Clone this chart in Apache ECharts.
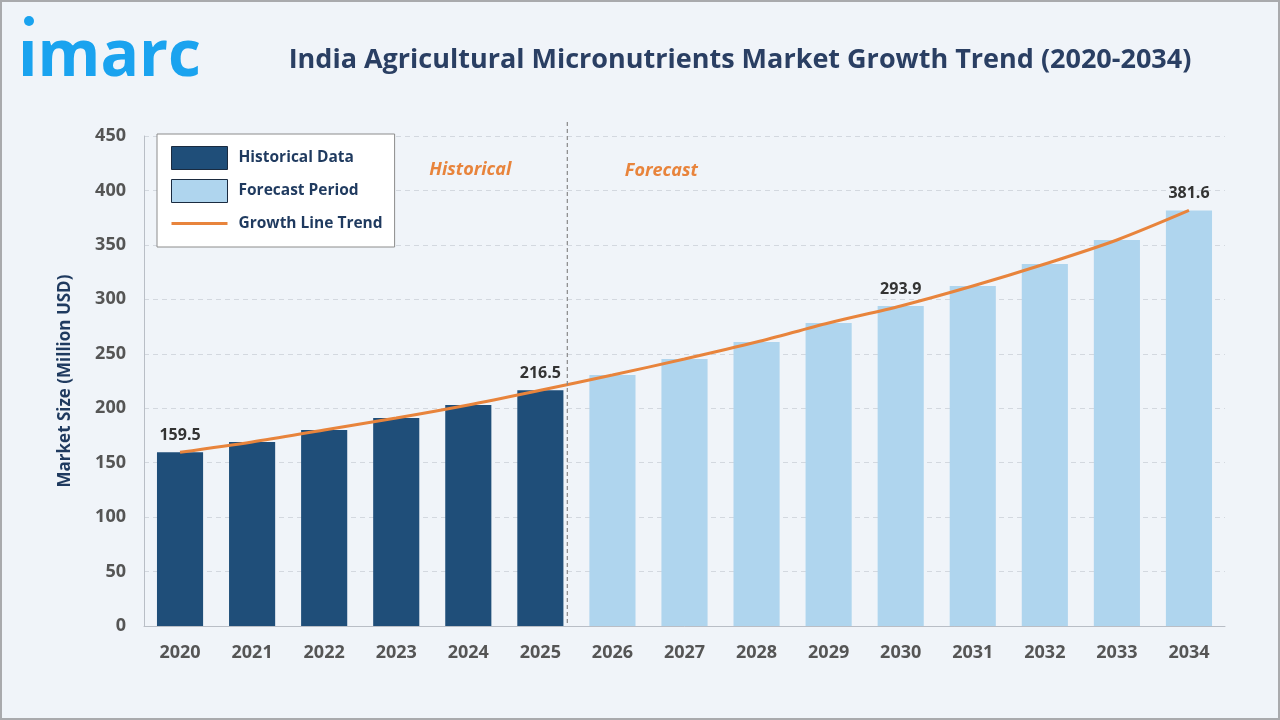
<!DOCTYPE html>
<html><head><meta charset="utf-8">
<script src="https://cdn.jsdelivr.net/npm/echarts@6/dist/echarts.min.js"></script>
<style>
html,body{margin:0;padding:0;width:1280px;height:720px;overflow:hidden;background:#f0f4f9;}
#frame{position:absolute;left:0;top:0;width:1276px;height:716px;border:2px solid #a9aaad;background:#f0f4f9;}
#chart{width:1276px;height:716px;}
</style></head>
<body><div id="frame"><div id="chart"></div></div>
<script>
const years = ['2020','2021','2022','2023','2024','2025','2026','2027','2028','2029','2030','2031','2032','2033','2034'];
const historical = [159.5, 169.0, 180.0, 191.0, 203.0, 216.5];
const forecast = [230.5, 245.2, 260.8, 278.3, 293.9, 312.2, 332.4, 354.5, 381.6];
const labeledYears = ['2020','2025','2030','2034'];
const yTicks = [0, 50, 100, 150, 200, 250, 300, 350, 400, 450];

const nHist = historical.length;
const allValues = historical.concat(forecast);
const histData = years.map((y, i) => i < nHist ? historical[i] : '-');
const foreData = years.map((y, i) => i >= nHist ? forecast[i - nHist] : '-');

const labelCfg = {show: true, position: 'top', distance: 9, color: '#333', fontFamily: 'Open Sans', fontWeight: 'bold', fontSize: 16, formatter: p => p.value.toFixed(1)};
function withLabels(arr) {
  return arr.map((v, i) => (v !== '-' && labeledYears.includes(years[i])) ? {value: v, label: labelCfg} : v);
}

const lineIcon = 'path://M0,0 L0.2,0 L0,0.2 Z M0,10 L56,10 L56,13 L0,13 Z M55.8,23 L56,23 L56,22.8 Z';

const chart = echarts.init(document.getElementById('chart'));
const option = {
  animation: false,
  backgroundColor: '#f0f4f9',
  title: {
    text: 'India Agricultural Micronutrients Market Growth Trend (2020-2034)',
    left: 733, top: 40, textAlign: 'center',
    textStyle: {fontFamily: 'Open Sans', fontWeight: 'bold', fontSize: 27, color: '#2a3f63'}
  },
  grid: {left: 142, right: 53, top: 134, bottom: 92},
  legend: {
    orient: 'vertical', left: 155, top: 132,
    backgroundColor: '#ffffff', borderColor: '#8c8c8c', borderWidth: 1,
    padding: [12, 12, 12, 14], itemGap: 9, itemWidth: 56, itemHeight: 23,
    textStyle: {fontFamily: 'Open Sans', fontWeight: 'bold', fontSize: 15.5, color: '#1f3a5f', padding: [0, 0, 0, 6]},
    data: [
      {name: 'Historical Data', icon: 'rect', itemStyle: {borderColor: '#1a2b40', borderWidth: 1}},
      {name: 'Forecast Period', icon: 'rect', itemStyle: {borderColor: '#1a2b40', borderWidth: 1}},
      {name: 'Growth Line Trend', icon: lineIcon, itemStyle: {color: '#e8843c', borderWidth: 0}}
    ]
  },
  xAxis: {
    type: 'category', data: years,
    axisLine: {lineStyle: {color: '#b9bec6', width: 1}},
    axisTick: {show: false},
    axisLabel: {color: '#555', fontFamily: 'Open Sans', fontWeight: 'bold', fontSize: 18, margin: 18}
  },
  yAxis: {
    type: 'value', min: 0, max: 450, interval: 50,
    name: 'Market Size (Million USD)', nameLocation: 'middle', nameGap: 70,
    nameTextStyle: {color: '#1f3a5f', fontFamily: 'Open Sans', fontWeight: 'bold', fontSize: 17},
    axisLine: {show: true, lineStyle: {color: '#b9bec6'}},
    axisTick: {show: false},
    axisLabel: {color: '#555', fontFamily: 'Open Sans', fontWeight: 'bold', fontSize: 18, margin: 18,
      formatter: v => yTicks.includes(v) ? String(v) : ''},
    splitLine: {lineStyle: {color: '#d3d8df', type: [5, 4]}}
  },
  series: [
    {name: 'Historical Data', type: 'bar', stack: 'b', barWidth: '64%', data: withLabels(histData),
      itemStyle: {color: '#1f4e79'}},
    {name: 'Forecast Period', type: 'bar', stack: 'b', barWidth: '64%', data: withLabels(foreData),
      itemStyle: {color: '#afd5ee'}},
    {name: 'Growth Line Trend', type: 'line', data: allValues, smooth: 0.3, symbol: 'none',
      lineStyle: {color: '#e8843c', width: 3}, itemStyle: {color: '#e8843c'}, z: 5}
  ]
};
chart.setOption(option);

const p5 = chart.convertToPixel({xAxisIndex: 0}, '2025');
const p6 = chart.convertToPixel({xAxisIndex: 0}, '2026');
const sepX = p5 + (p6 - p5) * 0.36 + 1;
const yTop = chart.convertToPixel({yAxisIndex: 0}, 450) - 14;
const yBot = chart.convertToPixel({yAxisIndex: 0}, 0);
chart.setOption({
  graphic: [
    {type: 'line', shape: {x1: sepX, y1: yTop, x2: sepX, y2: yBot}, style: {stroke: '#888', lineWidth: 1.2, lineDash: [4, 3]}, z: 10},
    {type: 'text', x: sepX - 97, y: 168, style: {text: 'Historical', font: 'italic bold 18px "Open Sans"', fill: '#e8843c', textAlign: 'center', textVerticalAlign: 'middle'}},
    {type: 'text', x: sepX + 94, y: 169, style: {text: 'Forecast', font: 'italic bold 18px "Open Sans"', fill: '#e8843c', textAlign: 'center', textVerticalAlign: 'middle'}},
    {type: 'text', x: 16, y: 56, style: {text: 'ımarc', font: 'bold 64px "Open Sans"', fill: '#1aa3ef', textVerticalAlign: 'middle'}},
    {type: 'circle', shape: {cx: 27, cy: 19, r: 5}, style: {fill: '#1aa3ef'}}
  ]
});
</script></body></html>
